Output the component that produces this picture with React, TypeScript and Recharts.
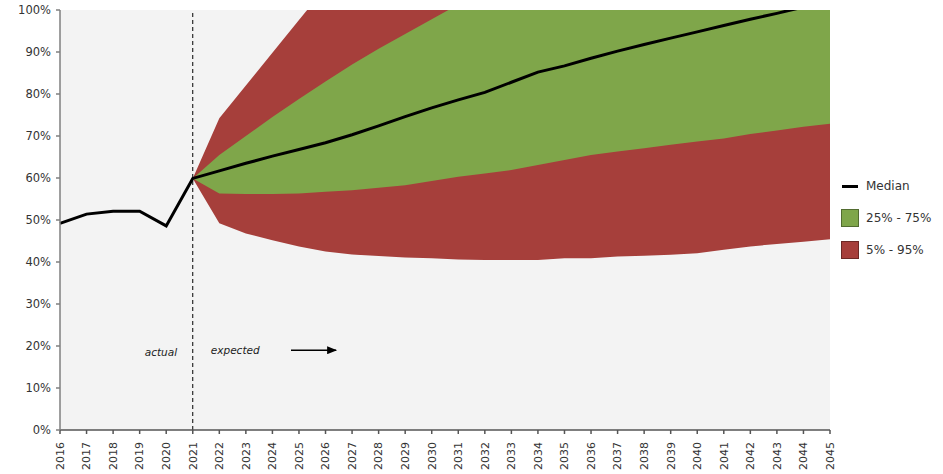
import React from 'react';
import { ComposedChart, Area, Line, XAxis, YAxis, CartesianGrid, ReferenceLine, ReferenceDot, Legend } from 'recharts';

// years on the x axis
const years = [
  2016, 2017, 2018, 2019, 2020, 2021, 2022, 2023, 2024, 2025,
  2026, 2027, 2028, 2029, 2030, 2031, 2032, 2033, 2034, 2035,
  2036, 2037, 2038, 2039, 2040, 2041, 2042, 2043, 2044, 2045,
];

// median: actual up to 2021, expected after
const median = [
  49.2, 51.4, 52.1, 52.1, 48.6, 59.9, 61.7, 63.5, 65.2, 66.8,
  68.4, 70.3, 72.4, 74.6, 76.7, 78.6, 80.4, 82.8, 85.2, 86.7,
  88.5, 90.2, 91.8, 93.3, 94.8, 96.3, 97.8, 99.2, 100.7, 102.1,
];

// percentile bands (null before the forecast starts)
const p5 = [
  null, null, null, null, null, 59.9, 49.2, 46.8, 45.2, 43.7,
  42.5, 41.8, 41.4, 41.1, 40.9, 40.6, 40.5, 40.5, 40.5, 40.9,
  40.9, 41.3, 41.5, 41.7, 42.1, 42.9, 43.7, 44.3, 44.8, 45.4,
];
const p25 = [
  null, null, null, null, null, 59.9, 56.3, 56.2, 56.2, 56.3,
  56.7, 57.1, 57.7, 58.3, 59.3, 60.3, 61.1, 61.9, 63.1, 64.3,
  65.5, 66.3, 67.1, 67.9, 68.7, 69.4, 70.5, 71.3, 72.2, 72.9,
];
const p75 = [
  null, null, null, null, null, 59.9, 65.5, 70, 74.5, 78.8,
  83, 87, 90.8, 94.3, 97.8, 101.3, 104.5, 107.5, 110.5, 113,
  115.5, 118, 120, 122, 124, 126, 128, 130, 132, 134,
];
const p95 = [
  null, null, null, null, null, 59.9, 74.2, 82, 89.8, 97.6,
  105.4, 113, 120, 127, 133, 139, 144, 149, 154, 158,
  162, 166, 170, 173, 176, 179, 182, 185, 188, 190,
];

const yTicks = [0, 10, 20, 30, 40, 50, 60, 70, 80, 90, 100];

const legendItems = [
  { label: 'Median', kind: 'line', color: '#000000' },
  { label: '25% - 75%', kind: 'box', color: '#7fa64a' },
  { label: '5% - 95%', kind: 'box', color: '#a63f3b' },
];

const data = years.map((year, i) => ({
  year,
  median: median[i],
  inner: p25[i] != null ? [p25[i], p75[i]] : null,
  outer: p5[i] != null ? [p5[i], p95[i]] : null,
}));

const FONT = '"DejaVu Sans", Verdana, sans-serif';

const YearTick = ({ x, y, payload }: any) => (
  <text
    x={x}
    y={y}
    dy="0.35em"
    transform={`rotate(-90, ${x}, ${y})`}
    textAnchor="end"
    fontSize={11}
    fill="#333"
    fontFamily={FONT}
  >
    {payload.value}
  </text>
);

const LegendContent = () => (
  <div style={{ fontFamily: FONT, fontSize: 12, color: '#333' }}>
    {legendItems.map((item) => (
      <div key={item.label} style={{ display: 'flex', alignItems: 'center', height: 18, marginBottom: 14 }}>
        {item.kind === 'line' ? (
          <span style={{ display: 'inline-block', width: 16, height: 3, background: item.color, marginRight: 8, marginLeft: 1 }} />
        ) : (
          <span
            style={{
              display: 'inline-block',
              width: 16,
              height: 16,
              background: item.color,
              border: '1px solid rgba(0,0,0,0.35)',
              marginRight: 7,
            }}
          />
        )}
        <span>{item.label}</span>
      </div>
    ))}
  </div>
);

export default function App() {
  return (
    <div style={{ position: 'absolute', left: 0, top: 0, width: 943, height: 474, background: '#fff' }}>
      <ComposedChart
        width={943}
        height={474}
        data={data}
        margin={{ top: 10, right: 113, bottom: 0, left: 0 }}
        style={{ fontFamily: FONT }}
      >
        <defs>
          <marker id="arrowHead" markerWidth="10" markerHeight="8" refX="9" refY="4" orient="auto" markerUnits="userSpaceOnUse">
            <path d="M0,0 L10,4 L0,8 Z" fill="#000" />
          </marker>
        </defs>
        <CartesianGrid horizontal={false} vertical={false} fill="#f3f3f3" />
        <XAxis
          dataKey="year"
          type="number"
          domain={[2016, 2045]}
          ticks={years}
          interval={0}
          height={44}
          tickSize={4}
          tickMargin={8}
          tick={<YearTick />}
          stroke="#555"
          strokeWidth={1.5}
        />
        <YAxis
          domain={[0, 100]}
          ticks={yTicks}
          allowDataOverflow
          width={60}
          tickSize={4}
          tickMargin={5}
          tickFormatter={(v) => `${v}%`}
          tick={{ fontSize: 11.5, fill: '#333', fontFamily: FONT }}
          stroke="#7f7f7f"
          strokeWidth={1.5}
        />
        <Area
          dataKey="outer"
          type="linear"
          fill="#a63f3b"
          fillOpacity={1}
          stroke="none"
          isAnimationActive={false}
          activeDot={false}
        />
        <Area
          dataKey="inner"
          type="linear"
          fill="#7fa64a"
          fillOpacity={1}
          stroke="none"
          isAnimationActive={false}
          activeDot={false}
        />
        <Line
          dataKey="median"
          type="linear"
          stroke="#000"
          strokeWidth={3}
          dot={false}
          activeDot={false}
          isAnimationActive={false}
        />
        <ReferenceLine x={2021} stroke="#000" strokeWidth={1} strokeDasharray="4 3" ifOverflow="visible" />
        <ReferenceDot
          x={2019.8}
          y={18.4}
          r={0}
          fill="none"
          stroke="none"
          label={{ value: 'actual', position: 'center', fontSize: 10.5, fontStyle: 'italic', fill: '#222', fontFamily: FONT }}
        />
        <ReferenceDot
          x={2022.6}
          y={19}
          r={0}
          fill="none"
          stroke="none"
          label={{ value: 'expected', position: 'center', fontSize: 10.5, fontStyle: 'italic', fill: '#222', fontFamily: FONT }}
        />
        <ReferenceLine
          segment={[{ x: 2024.7, y: 19 }, { x: 2026.4, y: 19 }]}
          stroke="#000"
          strokeWidth={1.5}
          markerEnd="url(#arrowHead)"
        />
        <Legend
          layout="vertical"
          align="center"
          verticalAlign="middle"
          content={<LegendContent />}
          wrapperStyle={{ left: 841, top: 177, width: 102, height: 96 }}
        />
      </ComposedChart>
    </div>
  );
}
